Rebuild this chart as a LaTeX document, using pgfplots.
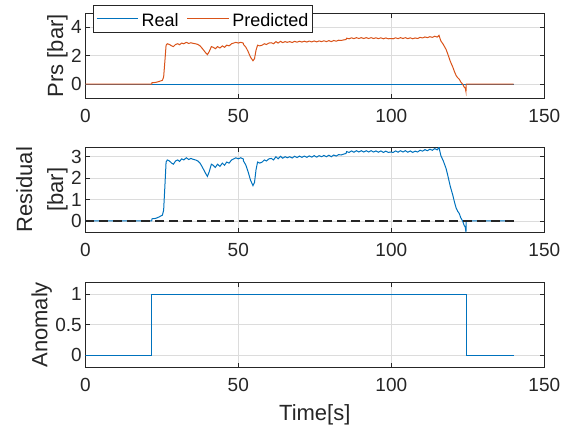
\documentclass[border=0pt]{standalone}
\usepackage{fontspec}
\setmainfont{Liberation Sans}
\usepackage{pgfplots}
\usepackage{pgfplotstable}
\pgfplotsset{compat=1.18}

\definecolor{mblue}{HTML}{0072BD}
\definecolor{morange}{HTML}{D95319}
\definecolor{axgray}{HTML}{262626}
\definecolor{gridgray}{HTML}{DCDCDC}

\newcommand{\tickfont}{\fontsize{19}{22}\selectfont}
\newcommand{\labfont}{\fontsize{22}{28}\selectfont}
\newcommand{\legfont}{\fontsize{18}{20}\selectfont}

% predicted pressure (real pressure is zero, so residual = predicted)
\pgfplotstableread{
t v
0 0
21.7 0
21.8 0.1
23.0 0.12
24.0 0.18
25.2 0.27
25.6 0.5
26.0 1.6
26.4 2.75
26.8 2.85
27.5 2.8
28.2 2.7
28.8 2.65
29.5 2.8
30.2 2.85
30.8 2.78
31.5 2.9
32.2 2.85
33.0 2.95
33.8 2.87
34.5 2.92
35.2 2.88
36.0 2.85
36.8 2.8
37.5 2.7
38.3 2.5
39.2 2.25
39.9 2.08
40.5 2.3
41.2 2.65
41.8 2.6
42.5 2.5
43.2 2.65
44.0 2.55
44.8 2.7
45.5 2.6
46.2 2.75
47.0 2.7
47.8 2.85
48.5 2.9
49.2 2.95
50.0 2.9
50.8 2.95
51.6 2.9
51.7 2.8
52.5 2.6
53.2 2.3
54.0 1.9
54.8 1.65
55.3 1.8
55.8 2.4
56.3 2.75
57.0 2.7
57.8 2.75
58.5 2.85
59.2 2.8
60.0 2.9
60.8 2.92
61.5 2.85
62.3 3.0
63.0 2.9
63.8 3.02
64.5 2.93
65.3 3.0
66.0 2.95
66.8 3.0
67.6 2.94
68.4 3.02
69.2 2.96
70.0 3.03
70.8 2.97
71.6 3.03
72.4 2.97
73.2 3.04
74.0 2.98
74.8 3.05
75.6 2.98
76.4 3.05
77.2 3.0
78.0 3.06
78.8 3.0
79.6 3.07
80.4 3.0
81.2 3.08
82.0 3.03
82.8 3.1
83.6 3.08
84.4 3.12
85.2 3.15
85.4 3.24
86.2 3.2
87.0 3.27
87.8 3.21
88.6 3.28
89.4 3.22
90.2 3.28
91.0 3.22
91.8 3.28
92.6 3.22
93.4 3.28
94.2 3.22
95.0 3.27
95.8 3.21
96.6 3.27
97.4 3.2
98.2 3.26
99.0 3.2
99.8 3.22
100.6 3.2
101.4 3.27
102.2 3.21
103.0 3.28
103.8 3.22
104.6 3.28
105.4 3.21
106.2 3.27
107.0 3.2
107.8 3.26
108.6 3.22
109.4 3.3
110.2 3.26
111.0 3.33
111.8 3.28
112.6 3.35
113.4 3.3
114.2 3.38
115.0 3.32
115.6 3.44
115.8 3.3
116.2 3.05
117.0 2.8
117.9 2.45
118.5 2.1
119.3 1.6
120.1 1.2
120.7 0.85
121.2 0.6
121.7 0.45
122.2 0.35
122.7 0.15
123.3 0
123.8 -0.2
124.2 -0.3
124.4 -0.53
124.5 0
140 0
}\predtab

\pgfplotsset{
  panel/.style={
    scale only axis, width=459pt, height=85pt,
    xmin=0, xmax=150, xtick={0,50,100,150},
    grid=major, major grid style={color=gridgray, line width=0.8pt},
    axis line style={color=axgray, line width=0.8pt},
    tick style={color=axgray, line width=0.8pt},
    tick align=inside, tick pos=both, major tick length=4.6pt,
    ticklabel style={font=\tickfont, color=axgray},
    xticklabel style={yshift=-7pt},
    label style={font=\labfont, color=axgray},
    ylabel style={inner sep=0pt},
    xlabel style={yshift=-6pt},
    /pgf/number format/assume math mode=true,
  },
}

\begin{document}
\begin{tikzpicture}
\useasboundingbox (0pt,0pt) rectangle (563pt,430pt);

% ---- pressure ------------------------------------------------------
\begin{axis}[panel,
    at={(85.3pt,331.7pt)}, anchor=south west,
    ymin=-1, ymax=5, ytick={0,2,4},
    ylabel={Prs [bar]},
    legend columns=2,
    legend style={
        at={(0.0161,1.0976)}, anchor=north west,
        draw=axgray, fill=white, line width=0.8pt, font=\legfont,
        inner xsep=3pt, inner ysep=2pt,
        nodes={inner sep=1pt, text height=18.5pt, text depth=2.5pt},
        /tikz/every odd column/.append style={column sep=2pt},
        /tikz/every even column/.append style={column sep=7pt},
    },
    legend cell align=left,
    legend image code/.code={\draw[#1] (0pt,0pt) -- (41.6pt,0pt);},
]
\addplot[draw=mblue, line width=1pt] coordinates {(0,0) (140,0)};
\addlegendentry{Real}
\addplot[draw=morange, line width=1pt] table[x=t, y=v] {\predtab};
\addlegendentry{Predicted}
\end{axis}

% ---- residual ------------------------------------------------------
\begin{axis}[panel,
    at={(85.3pt,197.7pt)}, anchor=south west,
    ymin=-0.53, ymax=3.44, ytick={0,1,2,3},
    ylabel={Residual\\{}[bar]},
    ylabel style={align=center, font=\fontsize{22}{31}\selectfont},
]
\addplot[draw=mblue, line width=1pt] table[x=t, y=v] {\predtab};
\addplot[draw=axgray, line width=1.2pt, dash pattern=on 9pt off 5pt]
    coordinates {(0,0) (140,0)};
\end{axis}

% ---- anomaly flag --------------------------------------------------
\begin{axis}[panel,
    at={(85.3pt,62.7pt)}, anchor=south west,
    ymin=-0.2, ymax=1.2, ytick={0,0.5,1},
    ylabel={Anomaly}, xlabel={Time[s]},
]
\addplot[draw=mblue, line width=0.9pt] coordinates {
    (0,0) (21.7,0) (21.7,1) (124.6,1) (124.6,0) (140,0)
};
\end{axis}

\end{tikzpicture}
\end{document}
